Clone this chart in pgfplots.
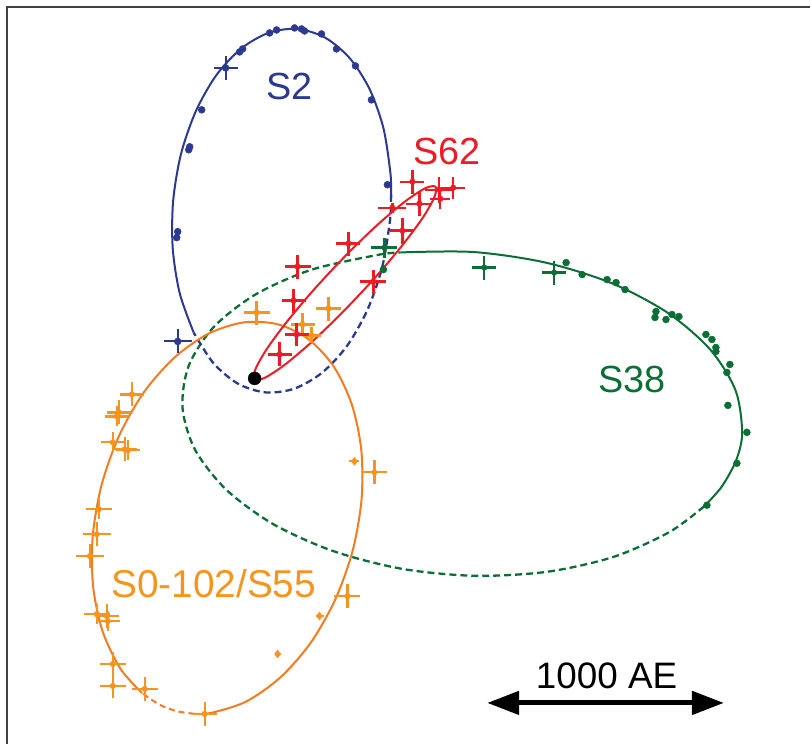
\documentclass[border=0pt]{standalone}
\usepackage{pgfplots}
\pgfplotsset{compat=1.18}
\usepackage{fontspec}
\setmainfont{Liberation Sans}
\usetikzlibrary{arrows.meta}
\definecolor{sblue}{HTML}{2B3990}
\definecolor{sred}{HTML}{ED1C24}
\definecolor{sgreen}{HTML}{0B6E35}
\definecolor{sorange}{HTML}{F7941D}
\definecolor{sorangeline}{HTML}{F47B20}
\definecolor{frame}{HTML}{404040}
\begin{document}
\begin{tikzpicture}
\begin{axis}[
  width=811bp, height=745bp, scale only axis,
  xmin=0, xmax=811, ymin=0, ymax=745, y dir=reverse,
  axis line style={draw=none}, ticks=none,
  clip=false,
  errstyle/.style={error bars/.cd, x dir=both, x explicit, y dir=both, y explicit, error mark=none},
]
% frame
\addplot[frame, line width=2.5bp] coordinates {(7,745) (7,7) (811,7)};

% ---------- S38 (green) ----------
\addplot[sgreen, line width=2bp, smooth] coordinates {
(401.3,252.8) (474.3,252.4) (546.5,263) (613,283.8) (669.2,313.6) (711.4,350.2)
(736.7,391) (743.3,433.6) (737.1,461.4) (722.6,487.7) (705.2,507.1)};
\addplot[sgreen, line width=2.3bp, smooth, dash pattern=on 7bp off 4bp] coordinates {
(705.2,507.1) (670.4,532.9) (614.6,557.7) (548.3,572.6) (476.1,576.7) (403.1,569.8)
(334.2,552.1) (274.1,525.2) (226.9,490.7) (195.6,450.9) (182.8,408.6) (188.9,366.6)
(213.8,327.8) (255.6,295.1) (311.4,270.3) (377.7,255.4) (401.3,252.8)};

% ---------- S2 (blue) ----------
\addplot[sblue, line width=2bp, smooth] coordinates {
(193.9,332.9) (180,293.7) (173,248.8) (173.4,201.4) (181.2,154.6) (196,111.7)
(216.5,75.5) (241.6,48.6) (269.4,32.7) (298,29) (325.6,37.7) (350.2,58.2)
(370.1,89.1) (384,128.3) (391,173.2) (391.7,195.2)};
\addplot[sblue, line width=2.3bp, smooth, dash pattern=on 7bp off 4bp] coordinates {
(391.7,195.2) (390.6,220.6) (382.8,267.4) (368,310.3) (347.5,346.5) (322.4,373.4)
(294.6,389.3) (266,393) (238.4,384.3) (213.8,363.8) (193.9,332.9)};

% ---------- S0-102/S55 (orange) ----------
\addplot[sorangeline, line width=2bp, smooth] coordinates {
(142.2,694.1) (120.6,669.7) (102.7,632.1) (93.2,586.8) (92.9,536.8) (101.8,485.5)
(119.3,436.4) (144,393) (174.5,358.3) (208.6,334.3) (244,322.9) (278.3,324.8)
(309.2,339.9) (334.4,367.3) (352.3,404.9) (361.8,450.2) (362.1,500.2) (353.2,551.5)
(335.7,600.6) (311,644) (280.5,678.7) (246.4,702.7) (211,714.1) (194.7,714.9)};
\addplot[sorangeline, line width=2bp, smooth, dash pattern=on 6bp off 4bp] coordinates {
(194.7,714.9) (176.7,712.2) (159.7,705.7) (142.2,694.1)};

% ---------- S62 (red) ----------
\addplot[sred, line width=2bp, smooth cycle] coordinates {
(436.1,187) (435.2,197.1) (423.6,217.8) (402.5,246.2) (374.6,279.2) (343,312.8)
(311.9,342.8) (284.8,365.6) (265,378.5) (254.9,380) (255.8,369.9) (267.4,349.2)
(288.5,320.8) (316.4,287.8) (348,254.2) (379.1,224.2) (406.2,201.4) (426,188.5)};

% ---------- data points ----------
% green dots
\addplot[only marks, mark=*, mark size=3.5bp, sgreen] coordinates {
(567,263) (583,275) (608,280) (617,283) (626,290) (657,312) (656,318) (667,320)
(673,315) (680,317) (707,335) (713,340) (717,348) (717,352) (731,365) (728,373)
(729,406) (748,433) (738,464) (708,506) (384,270)};
% green crosses
\addplot[only marks, mark=*, mark size=2.8bp, sgreen, errstyle,
  error bar style={line width=2.3bp, sgreen}] coordinates {
(385,248) +- (13,10)
(485,268) +- (12,12)
(555,273) +- (12,12)};

% blue dots
\addplot[only marks, mark=*, mark size=3.5bp, sblue] coordinates {
(240,52) (243,49) (270,33) (277,30) (295,28) (302,29) (305,31) (322,34)
(337,49) (356,66) (372,100) (388,185) (202,110) (190,147) (189,150)
(178,232) (177,238)};
\addplot[only marks, mark=*, mark size=3.5bp, sblue, errstyle,
  error bar style={line width=2bp, sblue}] coordinates {
(226,68) +- (12,12)
(178,342) +- (14,12)};

% orange crosses
\addplot[only marks, mark=*, mark size=2.8bp, sorange, errstyle,
  error bar style={line width=2.3bp, sorange}] coordinates {
(132,395) +- (12,12)
(119,413) +- (12,12)
(117,417) +- (12,10)
(113,443) +- (12,10)
(125,450) +- (12,12)
(128,451) +- (12,10)
(99,510) +- (13,10)
(97,535) +- (14,12)
(90,557) +- (14,12)
(97,615) +- (13,10)
(107,617) +- (12,12)
(108,622) +- (12,10)
(113,665) +- (13,12)
(113,687) +- (13,12)
(145,690) +- (13,12)
(205,715) +- (12,12)
(348,597) +- (13,12)
(375,473) +- (13,12)
(257,313) +- (13,12)
(329,309) +- (13,12)
(303,325) +- (12,12)
(312,336) +- (9,8)};
\addplot[only marks, mark=diamond*, mark size=4bp, sorange, errstyle,
  error bar style={line width=1.8bp, sorange}] coordinates {
(278,655) +- (3,3)
(320,617) +- (4,4)
(355,462) +- (5,4)};

% red crosses
\addplot[only marks, mark=*, mark size=2.8bp, sred, errstyle,
  error bar style={line width=2.3bp, sred}] coordinates {
(413,182) +- (12,12)
(440,190) +- (14,13)
(454,188) +- (12,11)
(441,199) +- (10,10)
(420,204) +- (13,12)
(393,208) +- (14,5)
(403,231) +- (12,13)
(349,244) +- (12,12)
(298,267) +- (13,12)
(294,301) +- (12,12)
(297,335) +- (12,12)
(280,355) +- (12,12)
(374,282) +- (13,12)};

% central black hole
\addplot[only marks, mark=*, mark size=6.5bp, black] coordinates {(255,379)};

% scale arrow
\addplot[black, line width=5bp, arrows={Triangle[length=32bp,width=23bp]-Triangle[length=32bp,width=23bp]}]
  coordinates {(488,704) (725,704)};

% labels
\node[anchor=base, text=sblue, font=\fontsize{38}{38}\selectfont] at (axis cs:290,100) {S2};
\node[anchor=base, text=sred, font=\fontsize{38}{38}\selectfont] at (axis cs:448,165) {S62};
\node[anchor=base, text=sgreen, font=\fontsize{38}{38}\selectfont] at (axis cs:633,393) {S38};
\node[anchor=base, text=sorange, font=\fontsize{39}{39}\selectfont] at (axis cs:214,598) {S0-102/S55};
\node[anchor=base, text=black, font=\fontsize{37}{37}\selectfont] at (axis cs:607.5,690) {1000 AE};
\end{axis}
\end{tikzpicture}
\end{document}
